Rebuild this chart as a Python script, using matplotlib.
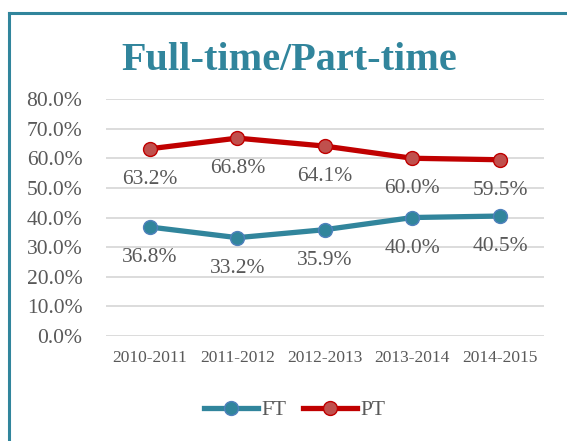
import matplotlib
matplotlib.use("Agg")
import matplotlib.pyplot as plt
from matplotlib.lines import Line2D

categories = ["2010-2011", "2011-2012", "2012-2013", "2013-2014", "2014-2015"]
ft_values = [36.8, 33.2, 35.9, 40.0, 40.5]
pt_values = [63.2, 66.8, 64.1, 60.0, 59.5]
y_ticks = [0, 10, 20, 30, 40, 50, 60, 70, 80]

teal = "#31859C"
red = "#C00000"
gray = "#595959"
serif = ["Liberation Serif", "DejaVu Serif"]

fig = plt.figure(figsize=(5.67, 4.41), dpi=100)
ax = fig.add_axes([0.187, 0.238, 0.772, 0.5375])

x = list(range(len(categories)))
ax.plot(x, ft_values, color=teal, lw=3.8, marker="o", ms=10,
        mfc=teal, mec="#4F81BD", mew=1.0, solid_capstyle="round", zorder=3)
ax.plot(x, pt_values, color=red, lw=3.8, marker="o", ms=10,
        mfc="#C0504D", mec=red, mew=1.0, solid_capstyle="round", zorder=3)

for xi, v in zip(x, ft_values):
    ax.annotate(f"{v:.1f}%", (xi, v), xytext=(0, -22), textcoords="offset points",
                ha="center", va="center", fontsize=15.5, color=gray, family=serif)
for xi, v in zip(x, pt_values):
    ax.annotate(f"{v:.1f}%", (xi, v), xytext=(0, -22), textcoords="offset points",
                ha="center", va="center", fontsize=15.5, color=gray, family=serif)

ax.set_xlim(-0.5, len(categories) - 0.5)
ax.set_ylim(0, 80)
ax.set_yticks(y_ticks)
ax.set_yticklabels([f"{t:.1f}%" for t in y_ticks], family=serif, fontsize=15.5, color=gray)
ax.set_xticks(x)
ax.set_xticklabels(categories, family=serif, fontsize=12.5, color=gray)
ax.tick_params(axis="both", length=0)
ax.tick_params(axis="y", pad=17)
ax.tick_params(axis="x", pad=10)
ax.grid(axis="y", color="#D9D9D9", lw=1.3)
ax.set_axisbelow(True)
for s in ax.spines.values():
    s.set_visible(False)

fig.text(0.51, 0.862, "Full-time/Part-time", ha="center", va="center",
         fontsize=29, fontweight="bold", color=teal, family=serif)

handles = [
    Line2D([0], [0], color=teal, lw=3.8, marker="o", ms=10, mfc=teal, mec="#4F81BD"),
    Line2D([0], [0], color=red, lw=3.8, marker="o", ms=10, mfc="#C0504D", mec=red),
]
leg = fig.legend(handles, ["FT", "PT"], loc="center", bbox_to_anchor=(0.52, 0.07),
                 ncol=2, frameon=False, handlelength=2.5, handletextpad=0.15,
                 columnspacing=0.8, prop={"family": serif, "size": 15.5})
for t in leg.get_texts():
    t.set_color(gray)

# chart border (left and top visible)
fig.add_artist(Line2D([0.0155, 0.0155], [0.0, 0.970], transform=fig.transFigure,
                      color=teal, lw=2.2))
fig.add_artist(Line2D([0.0155, 1.0], [0.970, 0.970], transform=fig.transFigure,
                      color=teal, lw=2.2))

fig.savefig("out.png", dpi=100)
